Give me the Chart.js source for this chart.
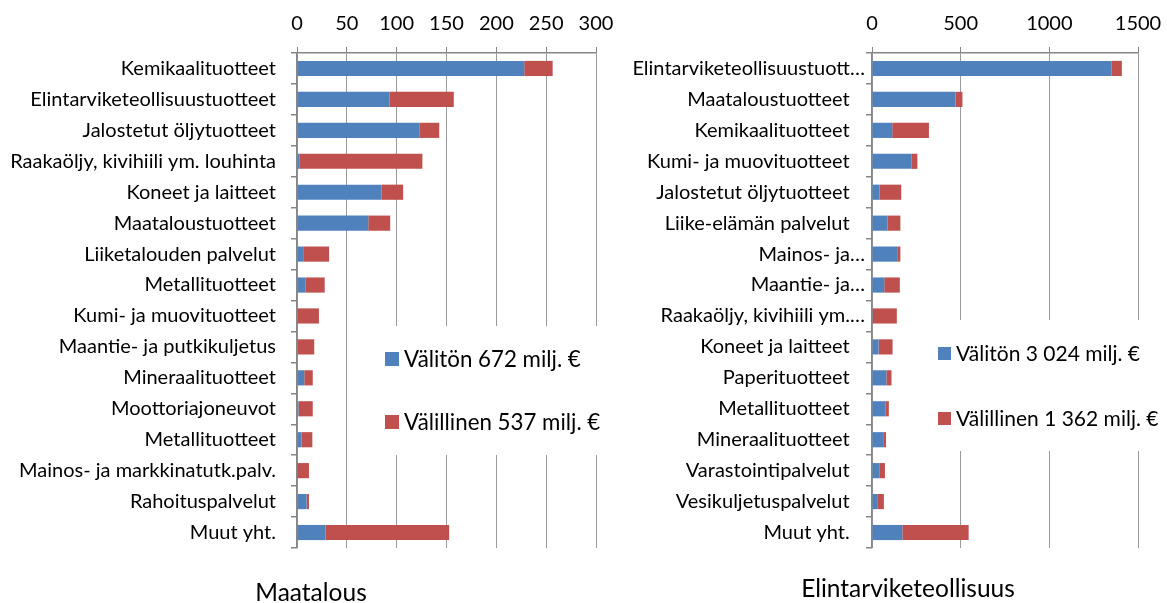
<!DOCTYPE html>
<html><head><meta charset="utf-8">
<script src="https://cdn.jsdelivr.net/npm/chart.js@4.4.1/dist/chart.umd.min.js"></script>
<style>
html,body{margin:0;padding:0;background:#fff;width:1167px;height:603px;overflow:hidden;}
#c1{position:absolute;left:0;top:0;}
#c2{position:absolute;left:600px;top:0;}
</style></head><body>
<canvas id="c1" width="620" height="603"></canvas>
<canvas id="c2" width="567" height="603"></canvas>
<script>
// ---- Data: Maatalous ----
const leftTitle = 'Maatalous';
const leftCategories = ['Kemikaalituotteet','Elintarviketeollisuustuotteet','Jalostetut öljytuotteet','Raakaöljy, kivihiili ym. louhinta','Koneet ja laitteet','Maataloustuotteet','Liiketalouden palvelut','Metallituotteet','Kumi- ja muovituotteet','Maantie- ja putkikuljetus','Mineraalituotteet','Moottoriajoneuvot','Metallituotteet','Mainos- ja markkinatutk.palv.','Rahoituspalvelut','Muut yht.'];
const leftSeriesNames = ['Välitön 672 milj. €','Välillinen 537 milj. €'];
const leftDirect   = [228, 92.7, 122.7, 2.3, 85, 71.5, 6.2, 8.8, 1, 0.8, 7.3, 1.5, 4.6, 0.4, 9.6, 28.5];
const leftIndirect = [28.5, 64.6, 20, 123.5, 21.5, 22, 26, 19, 21, 16.5, 8.5, 14.3, 10.8, 11.6, 2.4, 124.2];
const leftAxis = {min: 0, max: 300, step: 50};

// ---- Data: Elintarviketeollisuus ----
const rightTitle = 'Elintarviketeollisuus';
const rightCategories = ['Elintarviketeollisuustuott…','Maataloustuotteet','Kemikaalituotteet','Kumi- ja muovituotteet','Jalostetut öljytuotteet','Liike-elämän palvelut','Mainos- ja…','Maantie- ja…','Raakaöljy, kivihiili ym.…','Koneet ja laitteet','Paperituotteet','Metallituotteet','Mineraalituotteet','Varastointipalvelut','Vesikuljetuspalvelut','Muut yht.'];
const rightSeriesNames = ['Välitön 3 024 milj. €','Välillinen 1 362 milj. €'];
const rightDirect   = [1350, 471, 114, 224, 43, 87, 142, 69, 4, 37, 81, 75, 63, 41, 33, 171];
const rightIndirect = [59, 39, 207, 32, 122, 73, 18, 88, 136, 79, 29, 20, 16, 32, 34, 374];
const rightAxis = {min: 0, max: 1500, step: 500};

const BLUE = '#4F81BD', RED = '#C0504D';
const GRID = '#9a9a9a', AXIS = '#868686';
Chart.defaults.font.family = 'Lato';
Chart.defaults.color = '#000';
Chart.defaults.scales.linear.stacked = true;
Chart.defaults.scales.category.stacked = true;

const boxLegend = {
  id: 'boxLegend',
  afterDatasetsDraw(chart, args, o) {
    const ctx = chart.ctx;
    ctx.save();
    ctx.fillStyle = '#fff';
    ctx.fillRect(o.boxLeft, o.boxTop, chart.width - o.boxLeft, o.boxBottom - o.boxTop);
    ctx.font = o.font;
    ctx.textBaseline = 'middle';
    ctx.textAlign = 'left';
    chart.data.datasets.forEach((ds, i) => {
      const y = o.rows[i];
      ctx.fillStyle = ds.backgroundColor;
      ctx.fillRect(o.markX, y - o.mark / 2, o.mark, o.mark);
      ctx.fillStyle = '#000';
      ctx.fillText(ds.label, o.markX + o.mark + 5, y + 1);
    });
    ctx.restore();
  }
};
const bottomTitle = {
  id: 'bottomTitle',
  afterDraw(chart, args, o) {
    const ctx = chart.ctx;
    ctx.save();
    ctx.font = o.font;
    ctx.fillStyle = '#000';
    ctx.textAlign = 'center';
    ctx.textBaseline = 'alphabetic';
    ctx.fillText(o.text, o.x, o.y);
    ctx.restore();
  }
};

function makeChart(id, cats, names, direct, indirect, axis, cfg) {
  const isTrunc = l => l.endsWith('…');
  return new Chart(document.getElementById(id), {
    type: 'bar',
    data: {
      labels: cats,
      datasets: [
        {label: names[0], data: direct, backgroundColor: BLUE, borderWidth: 0},
        {label: names[1], data: indirect, backgroundColor: RED, borderWidth: 0}
      ]
    },
    options: {
      indexAxis: 'y', responsive: false, animation: false,
      datasets: {bar: {categoryPercentage: 1, barPercentage: 0.49}},
      layout: {padding: {left: 0, right: cfg.padRight, top: 0, bottom: 55}},
      scales: {
        x: {
          type: 'linear', position: 'top', min: axis.min, max: axis.max,
          ticks: {stepSize: axis.step, font: {size: 20}, padding: 11, color: '#000', callback: v => String(v)},
          grid: {color: GRID, lineWidth: 1, tickLength: 6, drawTicks: true, tickColor: AXIS},
          border: {display: true, color: AXIS, width: 1.5},
          afterFit(s) { s.height = 53; s.paddingLeft = 0; s.paddingRight = 0; }
        },
        y: {
          type: 'category', position: 'left', offset: true,
          ticks: {font: {size: 20}, padding: cfg.labelPad, autoSkip: false, color: '#000',
            // truncated labels sit closer to the axis than full ones (as in the original)
            callback(v) { const l = this.getLabelForValue(v); return (cfg.truncCloser && !isTrunc(l)) ? l + '   ' : l; }},
          grid: {offset: true, drawOnChartArea: false, tickLength: 6, color: AXIS, lineWidth: 1.5},
          border: {display: true, color: AXIS, width: 1.5},
          afterFit(s) { s.width = cfg.yWidth; }
        }
      },
      plugins: {
        legend: {display: false}, tooltip: {enabled: false}, title: {display: false},
        boxLegend: cfg.legend,
        bottomTitle: cfg.title
      }
    },
    plugins: [boxLegend, bottomTitle]
  });
}

makeChart('c1', leftCategories, leftSeriesNames, leftDirect, leftIndirect, leftAxis, {
  yWidth: 297, padRight: 24, labelPad: 15, truncCloser: false,
  legend: {boxLeft: 383, boxTop: 326, boxBottom: 455, markX: 385, mark: 14, rows: [359, 422], font: '22.3px Lato'},
  title: {text: leftTitle, x: 311, y: 601, font: '24.5px Lato'}
});
makeChart('c2', rightCategories, rightSeriesNames, rightDirect, rightIndirect, rightAxis, {
  yWidth: 272, padRight: 29, labelPad: 1, truncCloser: true,
  legend: {boxLeft: 335, boxTop: 320, boxBottom: 451, markX: 338, mark: 13, rows: [353.5, 418.5], font: '21px Lato'},
  title: {text: rightTitle, x: 308, y: 597, font: '24.5px Lato'}
});
</script>
</body></html>
